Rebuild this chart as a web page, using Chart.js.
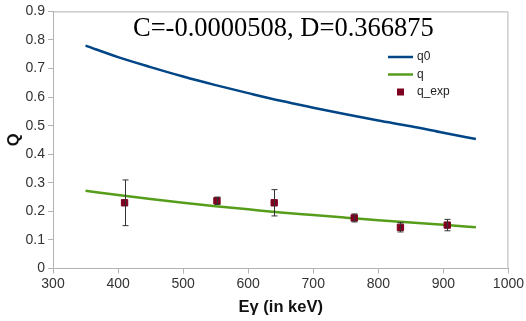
<!DOCTYPE html>
<html>
<head>
<meta charset="utf-8">
<script src="https://cdn.jsdelivr.net/npm/chart.js@4.4.0/dist/chart.umd.min.js"></script>
<style>
  body { margin: 0; background: #fff; }
  #wrap { width: 526px; height: 321px; }
</style>
</head>
<body>
<div id="wrap"><canvas id="qChart"></canvas></div>
<script>
// model curves, sampled every 50 keV
const energies = [350, 400, 450, 500, 550, 600, 650, 700, 750, 800, 850, 900, 950];
const q0Values = [0.780, 0.740, 0.705, 0.672, 0.642, 0.614, 0.587, 0.563, 0.540, 0.518, 0.498, 0.475, 0.453];
const qValues = [0.272, 0.257, 0.243, 0.230, 0.218, 0.207, 0.196, 0.187, 0.178, 0.169, 0.161, 0.153, 0.144];

// measured points
const expEnergies = [410, 552, 640, 763, 834, 906];
const expValues = [0.230, 0.237, 0.230, 0.177, 0.144, 0.152];
const expErrors = [0.080, 0.013, 0.046, 0.014, 0.016, 0.020];

const xTicks = [300, 400, 500, 600, 700, 800, 900, 1000];
const yTicks = [0, 0.1, 0.2, 0.3, 0.4, 0.5, 0.6, 0.7, 0.8, 0.9];

const fitLabel = 'C=-0.0000508, D=0.366875';

const toXY = (xs, ys) => xs.map((x, i) => ({ x: x, y: ys[i] }));

const frameAndExtras = {
    id: 'frameAndExtras',
    beforeDatasetsDraw(chart) {
        const { ctx, chartArea: a } = chart;
        ctx.save();
        ctx.strokeStyle = '#b3b3b3';
        ctx.lineWidth = 1;
        ctx.beginPath();
        ctx.moveTo(a.left, a.top + 0.5);
        ctx.lineTo(a.right - 0.5, a.top + 0.5);
        ctx.lineTo(a.right - 0.5, a.bottom);
        ctx.stroke();
        ctx.restore();
    },
    afterDatasetsDraw(chart) {
        const { ctx, scales: { x, y } } = chart;
        ctx.save();
        // error bars
        ctx.strokeStyle = '#333333';
        ctx.lineWidth = 1;
        expEnergies.forEach((e, i) => {
            const px = Math.round(x.getPixelForValue(e)) + 0.5;
            const top = y.getPixelForValue(expValues[i] + expErrors[i]);
            const bot = y.getPixelForValue(expValues[i] - expErrors[i]);
            ctx.beginPath();
            ctx.moveTo(px, top); ctx.lineTo(px, bot);
            ctx.moveTo(px - 3, top); ctx.lineTo(px + 3, top);
            ctx.moveTo(px - 3, bot); ctx.lineTo(px + 3, bot);
            ctx.stroke();
        });

        // fit parameters
        ctx.fillStyle = '#000';
        ctx.font = '26.5px "Liberation Serif"';
        ctx.textBaseline = 'alphabetic';
        ctx.textAlign = 'left';
        ctx.fillText(fitLabel, 133, 36);

        // legend
        const items = chart.data.datasets;
        ctx.font = '12px "Liberation Sans"';
        ctx.textBaseline = 'middle';
        items.forEach((ds, i) => {
            const ly = 57 + i * 17.5;
            if (ds.type === 'line') {
                ctx.strokeStyle = ds.borderColor;
                ctx.lineWidth = 2.5;
                ctx.beginPath();
                ctx.moveTo(388, ly); ctx.lineTo(413, ly);
                ctx.stroke();
            } else {
                ctx.fillStyle = ds.backgroundColor;
                ctx.fillRect(397, ly - 3.5, 7, 7);
            }
            ctx.fillStyle = '#222';
            ctx.fillText(ds.label, 417, ly);
        });
        ctx.restore();
    }
};

new Chart(document.getElementById('qChart'), {
    data: {
        datasets: [{
            type: 'line',
            label: 'q0',
            data: toXY(energies, q0Values),
            borderColor: '#004586',
            borderWidth: 2.5,
            pointRadius: 0,
            cubicInterpolationMode: 'monotone',
            order: 2
        }, {
            type: 'line',
            label: 'q',
            data: toXY(energies, qValues),
            borderColor: '#579d1c',
            borderWidth: 2.5,
            pointRadius: 0,
            cubicInterpolationMode: 'monotone',
            order: 3
        }, {
            type: 'scatter',
            label: 'q_exp',
            data: toXY(expEnergies, expValues),
            backgroundColor: '#7e0021',
            borderColor: '#7e0021',
            pointStyle: 'rect',
            pointRadius: 4.5,
            order: 1
        }]
    },
    options: {
        responsive: true,
        maintainAspectRatio: false,
        animation: false,
        layout: { padding: { top: 8, right: 15, left: 0, bottom: 0 } },
        scales: {
            x: {
                type: 'linear',
                min: 300,
                max: 1000,
                afterBuildTicks: (s) => { s.ticks = xTicks.map(v => ({ value: v })); },
                afterFit: (s) => { s.height = 52.5; },
                ticks: {
                    color: '#333',
                    font: { family: 'Liberation Sans', size: 14 },
                    padding: 2,
                    callback: (v) => String(v)
                },
                grid: { drawOnChartArea: false, color: '#b3b3b3', tickLength: 5 },
                border: { color: '#b3b3b3' },
                title: {
                    display: true,
                    text: 'Eγ (in keV)',
                    color: '#111',
                    font: { family: 'Liberation Sans', size: 16.5, weight: 'bold' },
                    padding: { top: 1 }
                }
            },
            y: {
                min: 0,
                max: 0.9,
                afterBuildTicks: (s) => { s.ticks = yTicks.map(v => ({ value: v })); },
                afterFit: (s) => { s.width = 53; },
                ticks: {
                    color: '#333',
                    font: { family: 'Liberation Sans', size: 14 },
                    padding: 3,
                    callback: (v) => String(v)
                },
                grid: { drawOnChartArea: false, color: '#b3b3b3', tickLength: 5 },
                border: { color: '#b3b3b3' },
                title: {
                    display: true,
                    text: 'Q',
                    color: '#111',
                    font: { family: 'Liberation Sans', size: 16.5, weight: 'bold' },
                    padding: { top: 5, bottom: 0 }
                }
            }
        },
        plugins: {
            legend: { display: false },
            tooltip: { enabled: false }
        }
    },
    plugins: [frameAndExtras]
});
</script>
</body>
</html>
